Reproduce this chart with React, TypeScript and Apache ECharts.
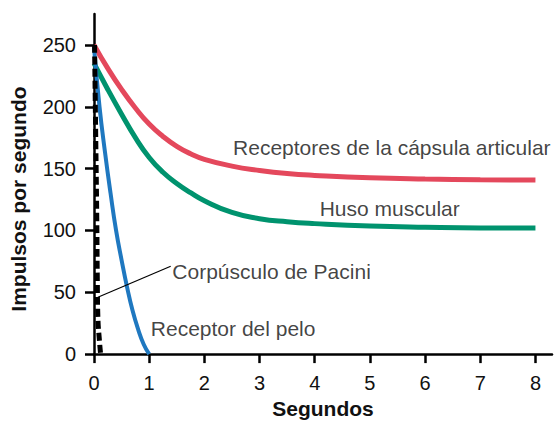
import React, { useEffect, useRef } from "react";
import * as echarts from "echarts";

const xTicks = [0, 1, 2, 3, 4, 5, 6, 7, 8];
const yTicks = [0, 50, 100, 150, 200, 250];

const capsulaArticular: [number, number][] = [
  [0, 250], [0.25, 231], [0.5, 214], [0.75, 199], [1.0, 186], [1.25, 176],
  [1.5, 168], [1.75, 162], [2.0, 157.5], [2.5, 152], [3, 148.5], [3.5, 146],
  [4, 144.5], [5, 142.5], [6, 141.5], [7, 141], [8, 140.7],
];
const husoMuscular: [number, number][] = [
  [0, 235], [0.25, 214], [0.5, 194], [0.75, 175], [1.0, 159], [1.25, 147],
  [1.5, 138], [1.75, 130.5], [2.0, 124], [2.5, 114.5], [3, 109.5], [3.5, 107],
  [4, 105.5], [5, 103.5], [6, 102.5], [7, 102], [8, 102],
];
const receptorPelo: [number, number][] = [
  [0, 248], [0.1, 200], [0.2, 163], [0.3, 130], [0.4, 100], [0.5, 76],
  [0.6, 54], [0.7, 35], [0.8, 20], [0.9, 8], [1.0, 0],
];
const corpusculoPacini: [number, number][] = [
  [0.01, 250], [0.03, 180], [0.05, 110], [0.06, 60], [0.07, 30], [0.1, 10], [0.12, 0],
];
const paciniLeader: [number, number][] = [
  [0.07, 46], [1.39, 71],
];
const annotations: [number, number, string][] = [
  [2.52, 167, "Receptores de la cápsula articular"],
  [4.09, 118, "Huso muscular"],
  [1.42, 67, "Corpúsculo de Pacini"],
  [1.03, 21, "Receptor del pelo"],
];

const FONT = "'Liberation Sans', Arial, Helvetica, sans-serif";

export default function App() {
  const ref = useRef<HTMLDivElement>(null);
  useEffect(() => {
    if (!ref.current) return;
    const chart = echarts.init(ref.current, undefined, { renderer: "svg" });
    chart.setOption({
      animation: false,
      backgroundColor: "#ffffff",
      textStyle: { fontFamily: FONT },
      grid: { left: 91, right: 3, top: 14, bottom: 68 },
      xAxis: {
        type: "value",
        min: 0,
        max: 8.3,
        name: "Segundos",
        nameLocation: "middle",
        nameGap: 43,
        nameTextStyle: { fontFamily: FONT, fontSize: 21, fontWeight: "bold", color: "#111" },
        splitLine: { show: false },
        axisLine: { lineStyle: { color: "#000", width: 2.5 } },
        axisTick: { show: true, length: 9, lineStyle: { color: "#000", width: 2.5 }, customValues: xTicks },
        axisLabel: { fontFamily: FONT, fontSize: 20, color: "#111", margin: 19, customValues: xTicks },
      },
      yAxis: {
        type: "value",
        min: 0,
        max: 275,
        name: "Impulsos por segundo",
        nameLocation: "middle",
        nameGap: 65,
        nameTextStyle: { fontFamily: FONT, fontSize: 21, fontWeight: "bold", color: "#111", padding: [0, 30, 0, 0] },
        splitLine: { show: false },
        axisLine: { show: true, lineStyle: { color: "#000", width: 2.5 } },
        axisTick: { show: true, length: 9, lineStyle: { color: "#000", width: 2.5 }, customValues: yTicks },
        axisLabel: { fontFamily: FONT, fontSize: 20, color: "#111", margin: 18, customValues: yTicks },
      },
      series: [
        {
          type: "line", data: capsulaArticular, smooth: true, showSymbol: false,
          lineStyle: { color: "#E4485C", width: 5 }, z: 3,
        },
        {
          type: "line", data: husoMuscular, smooth: true, showSymbol: false,
          lineStyle: { color: "#00936E", width: 5 }, z: 3,
        },
        {
          type: "line", data: receptorPelo, smooth: true, showSymbol: false,
          lineStyle: { color: "#1F78C0", width: 4 }, z: 3,
        },
        {
          type: "line", data: corpusculoPacini, smooth: true, showSymbol: false,
          lineStyle: { color: "#000", width: 5, type: [8, 4] }, z: 4,
        },
        {
          type: "line", data: paciniLeader, showSymbol: false,
          lineStyle: { color: "#000", width: 1.2 }, z: 4,
        },
        {
          type: "scatter", data: annotations, symbolSize: 0,
          label: {
            show: true, position: [0, 0], align: "left", verticalAlign: "middle",
            fontFamily: FONT, fontSize: 21, color: "#111",
            formatter: (p: any) => p.value[2],
          },
          z: 5,
        },
      ],
    });
    return () => chart.dispose();
  }, []);
  return <div ref={ref} style={{ position: "absolute", left: 0, top: 0, width: 555, height: 424 }} />;
}
